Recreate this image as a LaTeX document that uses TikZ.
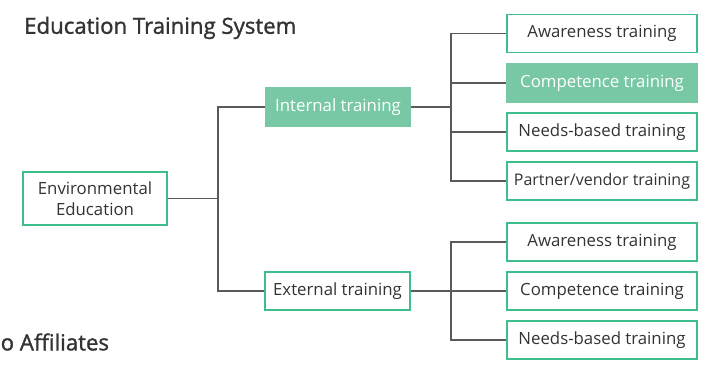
\documentclass[tikz,border=0pt]{standalone}
\usepackage{fontspec}
\setmainfont{Open Sans}
\newfontfamily\titlefont{Open Sans}[UprightFeatures={FakeBold=1.3}]
\definecolor{boxgreen}{HTML}{3DBE8B}
\definecolor{fillgreen}{HTML}{78C8A5}
\definecolor{linegray}{HTML}{5A5A5A}
\definecolor{textgray}{HTML}{333333}
\tikzset{
  plainbox/.style={draw=boxgreen, line width=1.1pt, fill=white, text=textgray,
    minimum height=38pt, inner sep=0pt, align=center,
    font=\fontsize{16.8}{21}\selectfont},
  greenbox/.style={plainbox, draw=fillgreen, fill=fillgreen, text=white},
  leafbox/.style={minimum width=190pt},
  link/.style={draw=linegray, line width=1.1pt},
  heading/.style={inner sep=0pt, text=textgray, font=\titlefont\fontsize{22.2}{26}\selectfont}
}
\begin{document}
\begin{tikzpicture}[x=1pt,y=-1pt]
        \useasboundingbox (0,0) rectangle (716,366);
        \node[heading, anchor=west] (title) at (24,28) {Education Training System};
        \node[heading, anchor=west] (affil) at (0.5,342) {o Affiliates};
        \node[plainbox, minimum width=144pt, minimum height=53pt] (env) at (95,198.5) {Environmental\\Education};
        \node[greenbox, minimum width=144pt] (int) at (338,107) {Internal training};
        \node[plainbox, minimum width=145pt] (ext) at (337.5,291) {External training};
        \node[plainbox, leafbox] (ia) at (602,33.5) {Awareness training};
        \node[greenbox, leafbox] (ic) at (602,83) {Competence training};
        \node[plainbox, leafbox] (in) at (602,132) {Needs-based training};
        \node[plainbox, leafbox, font=\fontsize{16}{21}\selectfont] (ip) at (602,181) {Partner/vendor training};
        \node[plainbox, leafbox] (ea) at (602,242) {Awareness training};
        \node[plainbox, leafbox] (ec) at (602,291) {Competence training};
        \node[plainbox, leafbox] (en) at (602,340) {Needs-based training};
        \coordinate (jenv) at (218,198.5);
        \coordinate (jint) at (451,107);
        \coordinate (jext) at (451,291);
        \draw[link] (env.east) -- (jenv);
        \draw[link] (jenv) |- (int.west);
        \draw[link] (jenv) |- (ext.west);
        \draw[link] (int.east) -- (jint);
        \draw[link] (ext.east) -- (jext);
        \foreach \leaf in {ia,ic,in,ip}
          \draw[link] (jint) |- (\leaf.west);
        \foreach \leaf in {ea,ec,en}
          \draw[link] (jext) |- (\leaf.west);
        \end{tikzpicture}
\end{document}
